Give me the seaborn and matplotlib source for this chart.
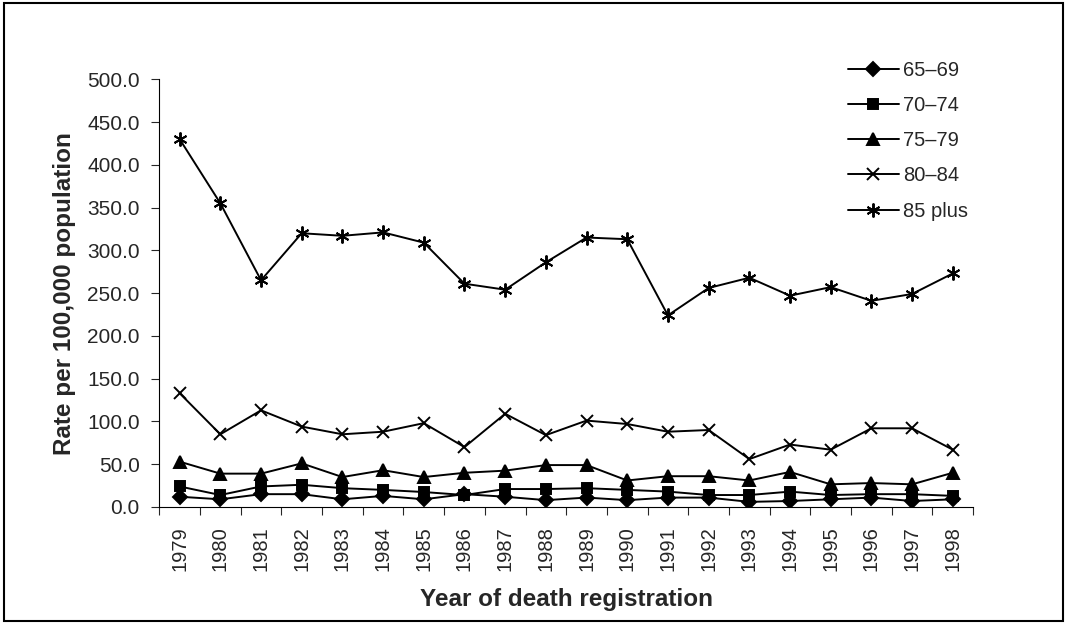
import pandas as pd
import matplotlib.pyplot as plt
import seaborn as sns
from matplotlib.patches import Rectangle
from matplotlib.ticker import FixedLocator, FormatStrFormatter

years = list(range(1979, 1999))
groups = ["65\u201369", "70\u201374", "75\u201379", "80\u201384", "85 plus"]

rate_65_69 = [12, 9, 15, 15, 9, 13, 9, 15, 12, 8, 11, 8, 11, 11, 6, 7, 9, 11, 7, 9]
rate_70_74 = [24, 14, 24, 26, 22, 20, 17.5, 14, 21, 21, 22, 20, 18, 14, 14, 18, 14, 15, 15, 13]
rate_75_79 = [53, 39, 39, 51, 35, 43, 35, 40, 42.5, 49, 49, 31, 36, 36, 31, 41, 26.5, 28, 26.5, 40]
rate_80_84 = [133, 85, 113, 94, 85, 88, 98, 70, 109, 84, 101, 97, 88, 90, 56, 73, 67, 92, 92, 67]
rate_85_plus = [430, 355, 265, 320, 317, 321, 309, 261, 254, 286, 315, 313, 224, 256, 268, 247, 257, 241, 249, 273]


def plot_rates():
    series = [rate_65_69, rate_70_74, rate_75_79, rate_80_84, rate_85_plus]
    df = pd.concat(
        [pd.DataFrame({"year": years, "rate": vals, "group": g}) for g, vals in zip(groups, series)],
        ignore_index=True,
    )

    sns.set_style("white")
    plt.rcParams["font.family"] = ["Liberation Sans", "DejaVu Sans"]

    fig = plt.figure(figsize=(10.67, 6.24), dpi=100)
    ax = fig.add_axes([0.1493, 0.1875, 0.7627, 0.6855])

    sizes = {groups[0]: 7.5, groups[1]: 7, groups[2]: 8.5, groups[3]: 9, groups[4]: 10}
    markers = ["D", "s", "^", "x", (6, 2, 0)]
    for g, m in zip(groups, markers):
        sub = df[df["group"] == g]
        sns.lineplot(
            data=sub, x="year", y="rate", ax=ax, color="black",
            marker=m, markersize=sizes[g], markeredgewidth=1.4,
            markeredgecolor="black", markerfacecolor="black",
            linewidth=1.4, label=g,
        )

    ax.set_xlim(1978.5, 1998.5)
    ax.set_ylim(0, 500)
    ax.set_yticks(range(0, 501, 50))
    ax.yaxis.set_major_formatter(FormatStrFormatter("%.1f"))
    ax.set_xticks(years)
    ax.set_xticklabels([str(y) for y in years], rotation=90)
    ax.xaxis.set_minor_locator(FixedLocator([y - 0.5 for y in years] + [1998.5]))
    ax.tick_params(axis="x", which="major", length=0, labelsize=14.5, pad=14)
    ax.tick_params(axis="x", which="minor", length=6, width=0.8, direction="out", bottom=True)
    ax.tick_params(axis="y", length=6, width=0.8, direction="out", left=True, labelsize=15, pad=8)

    for side in ["top", "right"]:
        ax.spines[side].set_visible(False)
    for side in ["left", "bottom"]:
        ax.spines[side].set_color("black")
        ax.spines[side].set_linewidth(0.8)

    ax.set_xlabel("Year of death registration", fontsize=17.5, fontweight="bold", labelpad=12)
    ax.set_ylabel("Rate per 100,000 population", fontsize=17.5, fontweight="bold", labelpad=8)

    ax.legend(
        loc="upper left", bbox_to_anchor=(0.795, 0.902), bbox_transform=fig.transFigure,
        frameon=False, fontsize=14.5, handlelength=2.5, labelspacing=0.8,
        handletextpad=0.2, borderaxespad=0, borderpad=0,
    )

    fig.patches.append(Rectangle((0.004, 0.005), 0.992, 0.99, transform=fig.transFigure,
                                 fill=False, edgecolor="black", linewidth=1.5))

    plt.savefig("out.png", dpi=100)


if __name__ == "__main__":
    plot_rates()
